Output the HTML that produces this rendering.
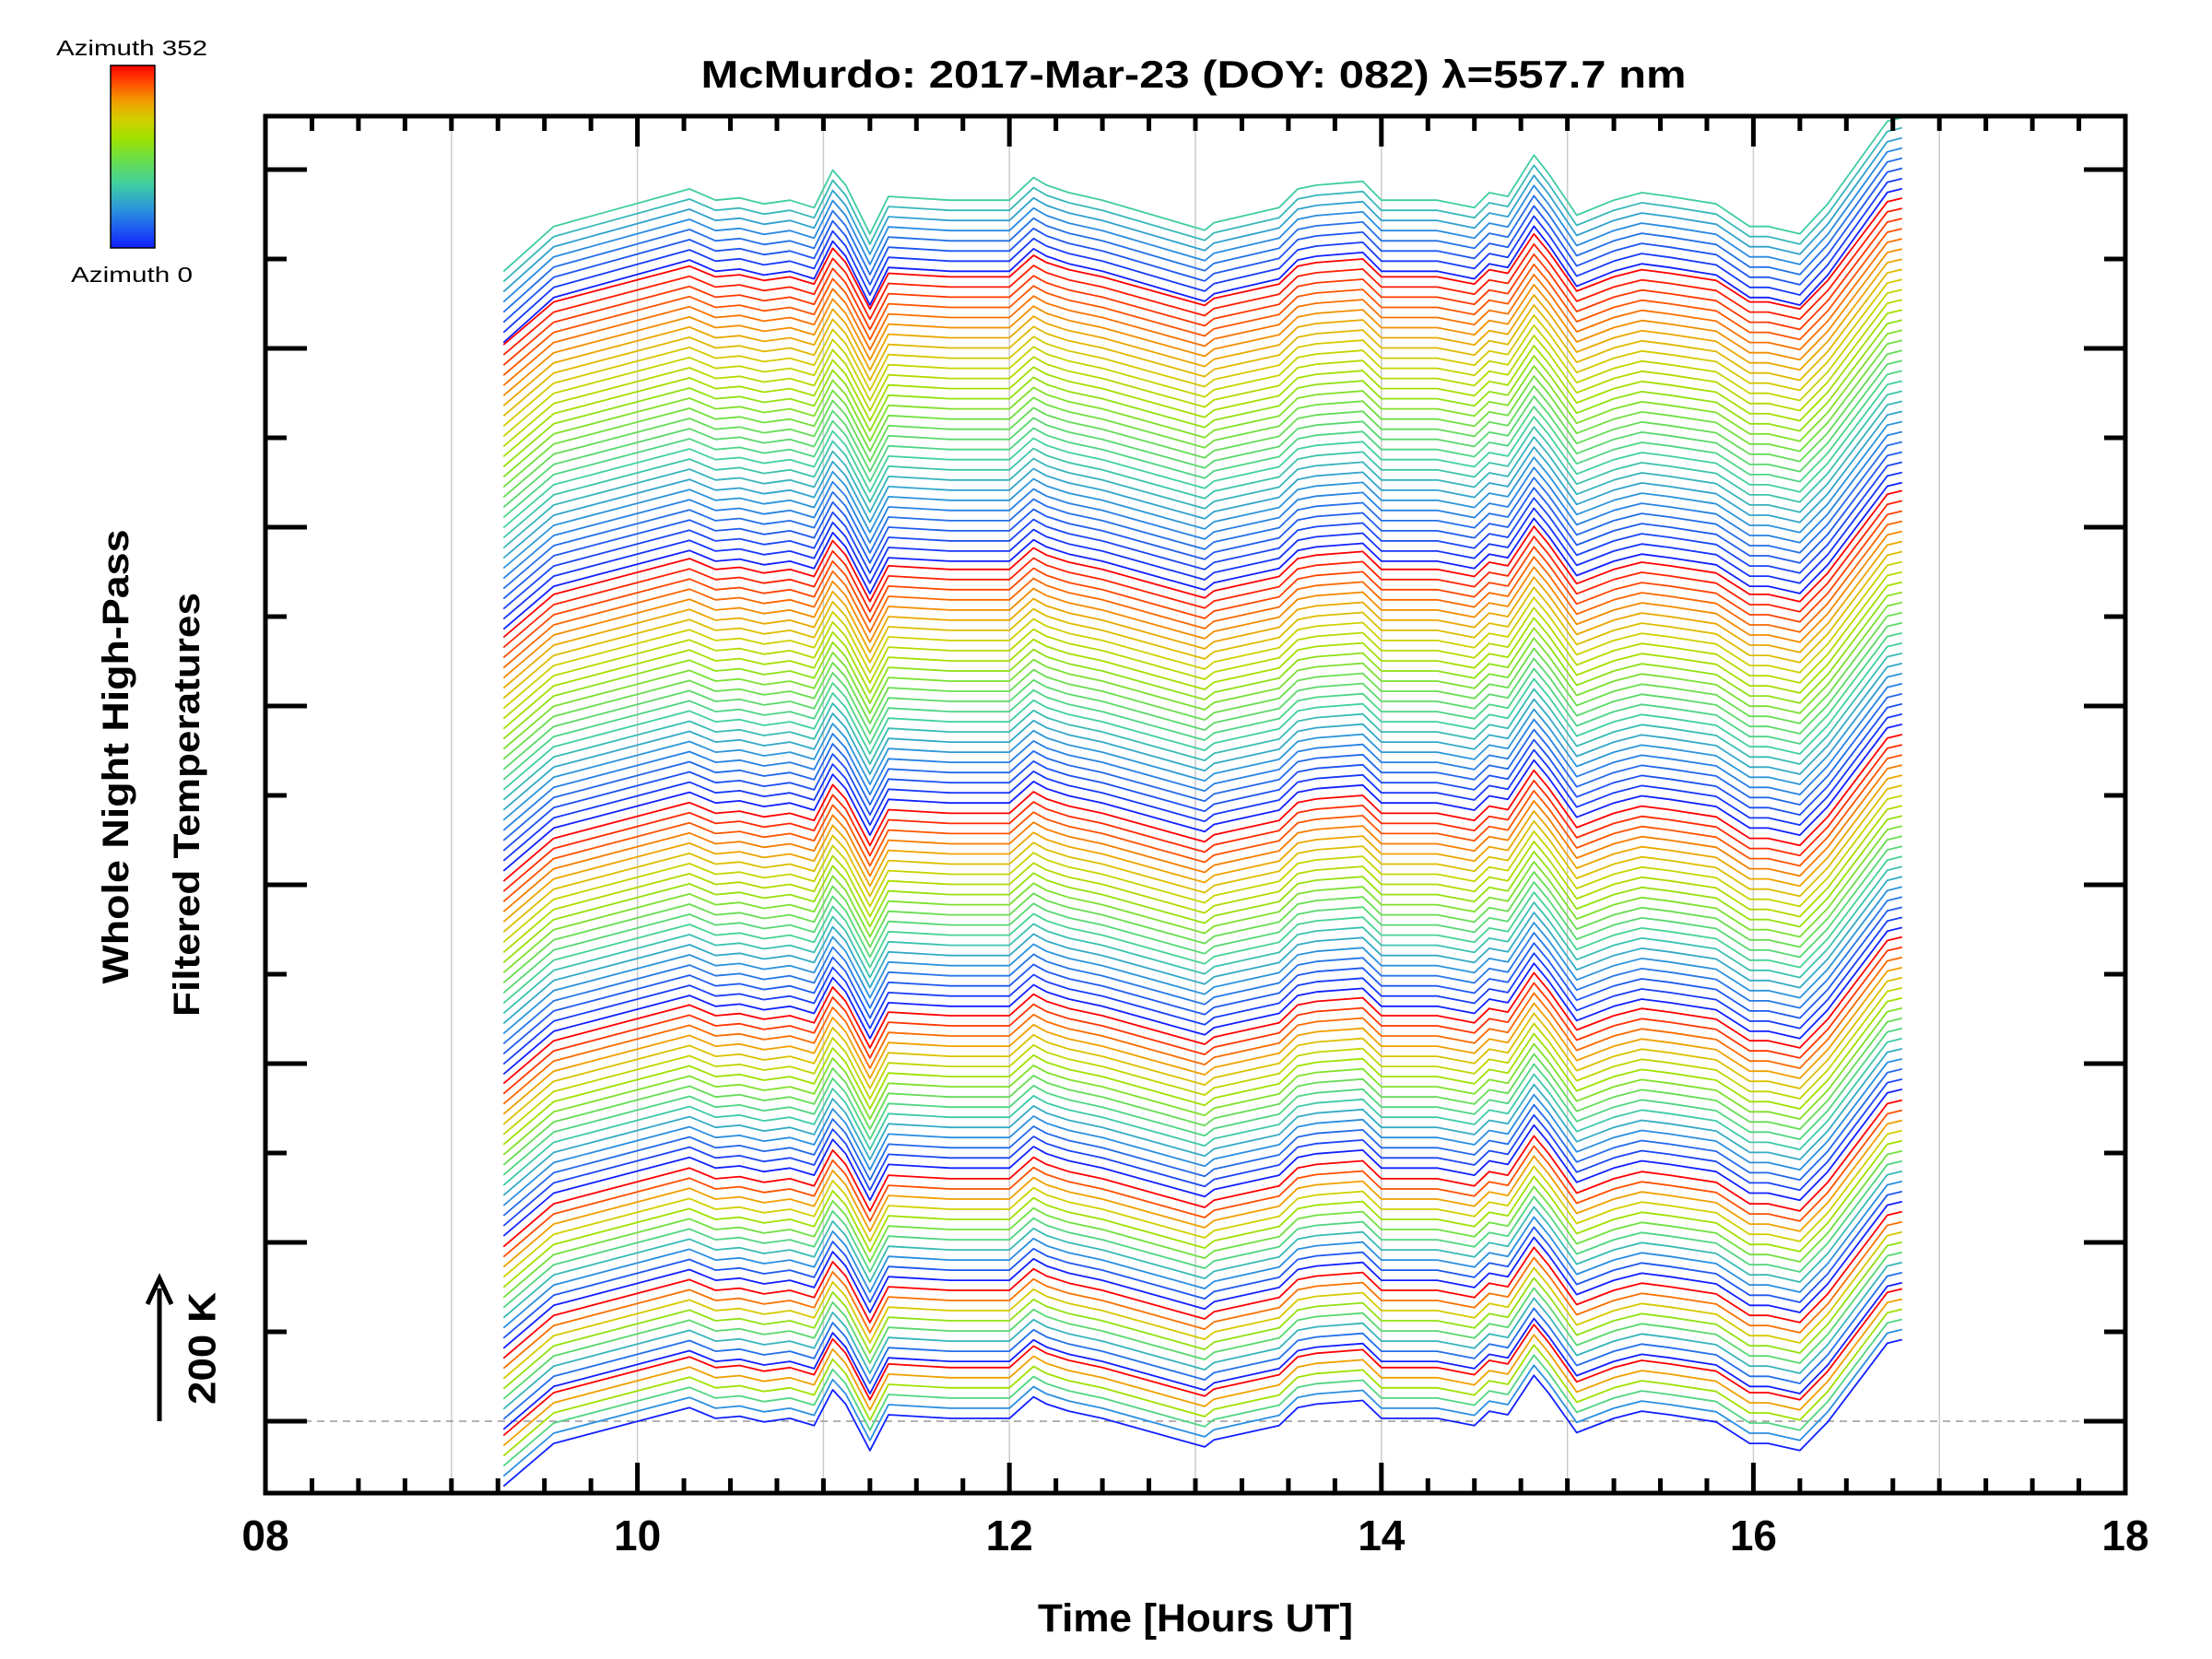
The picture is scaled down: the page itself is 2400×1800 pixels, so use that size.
<!DOCTYPE html>
<html><head><meta charset="utf-8"><style>
html,body{margin:0;padding:0;background:#fff;}
svg{display:block;}
text{font-family:"Liberation Sans",sans-serif;fill:#000;}
</style></head><body>
<svg id="chart" width="2400" height="1800" viewBox="0 0 2400 1800" xmlns="http://www.w3.org/2000/svg">
<defs>
<linearGradient id="jet" x1="0" y1="1" x2="0" y2="0">
<stop offset="0" stop-color="#1020ff"/><stop offset="0.2" stop-color="#2a8ee0"/><stop offset="0.35" stop-color="#40d0a0"/><stop offset="0.5" stop-color="#70e040"/><stop offset="0.6" stop-color="#a0e000"/><stop offset="0.7" stop-color="#d0d000"/><stop offset="0.8" stop-color="#f0a000"/><stop offset="0.9" stop-color="#ff5000"/><stop offset="1" stop-color="#ff0000"/>
</linearGradient>
</defs>
<g id="grid"></g>
<g id="series"></g>
<g id="axes"></g>
<text x="1295" y="95" text-anchor="middle" font-size="42" font-weight="bold" textLength="1069" lengthAdjust="spacingAndGlyphs">McMurdo: 2017-Mar-23 (DOY: 082) λ=557.7 nm</text>
<text x="1297" y="1770" text-anchor="middle" font-size="43" font-weight="bold" textLength="342" lengthAdjust="spacingAndGlyphs">Time [Hours UT]</text>
<text transform="translate(126,821) rotate(-90)" text-anchor="middle" dominant-baseline="central" font-size="40" font-weight="bold" textLength="493" lengthAdjust="spacingAndGlyphs">Whole Night High-Pass</text>
<text transform="translate(203,873) rotate(-90)" text-anchor="middle" dominant-baseline="central" font-size="40" font-weight="bold" textLength="460" lengthAdjust="spacingAndGlyphs">Filtered Temperatures</text>
<g>
<line x1="173" y1="1542" x2="173" y2="1398" stroke="#000" stroke-width="5"/>
<polyline points="160,1415 173,1387 186,1415" fill="none" stroke="#000" stroke-width="5"/>
</g>
<text transform="translate(219,1463) rotate(-90)" text-anchor="middle" dominant-baseline="central" font-size="42" font-weight="bold" textLength="122" lengthAdjust="spacingAndGlyphs">200 K</text>
<g>
<rect x="120" y="71" width="48" height="198" fill="url(#jet)" stroke="#000" stroke-width="1.5"/>
</g>
<text x="143" y="60" text-anchor="middle" font-size="23" textLength="164" lengthAdjust="spacingAndGlyphs">Azimuth 352</text>
<text x="143" y="306" text-anchor="middle" font-size="23" textLength="132" lengthAdjust="spacingAndGlyphs">Azimuth 0</text>
</svg>
<script>
// ---- data ----
var times = [9.28,9.55,10.28,10.42,10.55,10.68,10.82,10.95,11.05,11.12,11.25,11.35,11.68,12.0,12.13,12.2,12.32,12.5,13.05,13.1,13.45,13.55,13.65,13.9,14.0,14.3,14.5,14.58,14.68,14.82,14.9,15.05,15.25,15.4,15.55,15.8,15.98,16.08,16.25,16.4,16.72,16.8];
var profile = [-110,-50,0,-15,-12,-20,-15,-25,25,5,-60,-10,-15,-15,15,5,-5,-15,-55,-45,-25,0,5,10,-15,-15,-25,-5,-10,45,20,-35,-15,-5,-10,-20,-50,-50,-60,-20,90,95];
var groupCounts = [8,29,24,20,16,11,8,6];
var groupTopOffsets = [1723,1615,1206,865,582,354,198,90];
var groupAzStart = [120,352,352,352,352,352,352,352];
var groupAmp = [1.05,1.0,1.0,1.0,1.0,1.0,1.0,1.0];
var lineStepK = 14.2;
var xTicksMajor = ["08","10","12","14","16","18"];
var xMajorValues = [8,10,12,14,16,18];

// ---- scales ----
var X0=288, X1=2306, Y0=126, Y1=1620, ZERO_Y=1542, PX_PER_K=0.776;
function xs(t){return X0+(t-8)*(X1-X0)/10;}
function ys(v){return ZERO_Y - v*PX_PER_K;}
var NS="http://www.w3.org/2000/svg";
function mk(tag,attrs,parent){var e=document.createElementNS(NS,tag);for(var k in attrs)e.setAttribute(k,attrs[k]);parent.appendChild(e);return e;}

var stops=[[0,[16,32,255]],[0.2,[42,142,224]],[0.35,[64,208,160]],[0.5,[112,224,64]],[0.6,[160,224,0]],[0.7,[208,208,0]],[0.8,[240,160,0]],[0.9,[255,80,0]],[1,[255,0,0]]];
function jet(f){f=Math.max(0,Math.min(1,f));for(var i=1;i<stops.length;i++){if(f<=stops[i][0]){var a=stops[i-1],b=stops[i],u=(f-a[0])/(b[0]-a[0]);var c=a[1].map(function(v,j){return Math.round(v+(b[1][j]-v)*u);});return "rgb("+c.join(",")+")";}}return "rgb(255,0,0)";}

// grid
var grid=document.getElementById('grid');
for(var h=9;h<=17;h++){
  var gl=mk('line',{x1:xs(h),x2:xs(h),y1:Y0,y2:Y1,stroke:'#cccccc','stroke-width':1.5},grid);
  
  
}
var zl=mk('line',{x1:X0,x2:X1,y1:ZERO_Y,y2:ZERO_Y,stroke:'#999','stroke-width':1.5,'stroke-dasharray':'8,6'},grid);



// series
var series=document.getElementById('series');
for(var g=0;g<groupCounts.length;g++){
  var n=groupCounts[g];
  for(var j=0;j<n;j++){
    var off=groupTopOffsets[g]-j*lineStepK;
    var az=groupAzStart[g]*(n>1?(1-j/(n-1)):1);
    var pts=[];
    for(var i=0;i<times.length;i++){pts.push(xs(times[i]).toFixed(1)+","+ys(off+profile[i]*groupAmp[g]).toFixed(1));}
    var pl=mk('polyline',{points:pts.join(" "),fill:'none',stroke:jet(az/352),'stroke-width':1.8,'stroke-linejoin':'round'},series);
    
    
  }
}

// axes
var axes=document.getElementById('axes');
var fr=mk('rect',{x:X0,y:Y0,width:X1-X0,height:Y1-Y0,fill:'none',stroke:'#000','stroke-width':5},axes);


for(var q=0;q<=40;q++){
  var t=8+q*0.25, big=(q%8===0), L=big?33:16, x=xs(t);
  if(q===0||q===40) continue;
  var t1=mk('line',{x1:x,x2:x,y1:Y0,y2:Y0+L,stroke:'#000','stroke-width':5},axes);
  
  
  var t2=mk('line',{x1:x,x2:x,y1:Y1,y2:Y1-L,stroke:'#000','stroke-width':5},axes);
  
  
}
for(var k=0;k<=14;k++){
  var y=184+k*97, bigY=((14-k)%2===0), LY=bigY?45:23;
  var a1=mk('line',{x1:X0,x2:X0+LY,y1:y,y2:y,stroke:'#000','stroke-width':5},axes);
  
  
  var a2=mk('line',{x1:X1,x2:X1-LY,y1:y,y2:y,stroke:'#000','stroke-width':5},axes);
  
  
}
for(var m=0;m<xTicksMajor.length;m++){
  var tl=mk('text',{x:xs(xMajorValues[m]),y:1682,'text-anchor':'middle','font-size':46,'font-weight':'bold'},axes);
  tl.textContent=xTicksMajor[m];
  
  
}
</script>
</body></html>
